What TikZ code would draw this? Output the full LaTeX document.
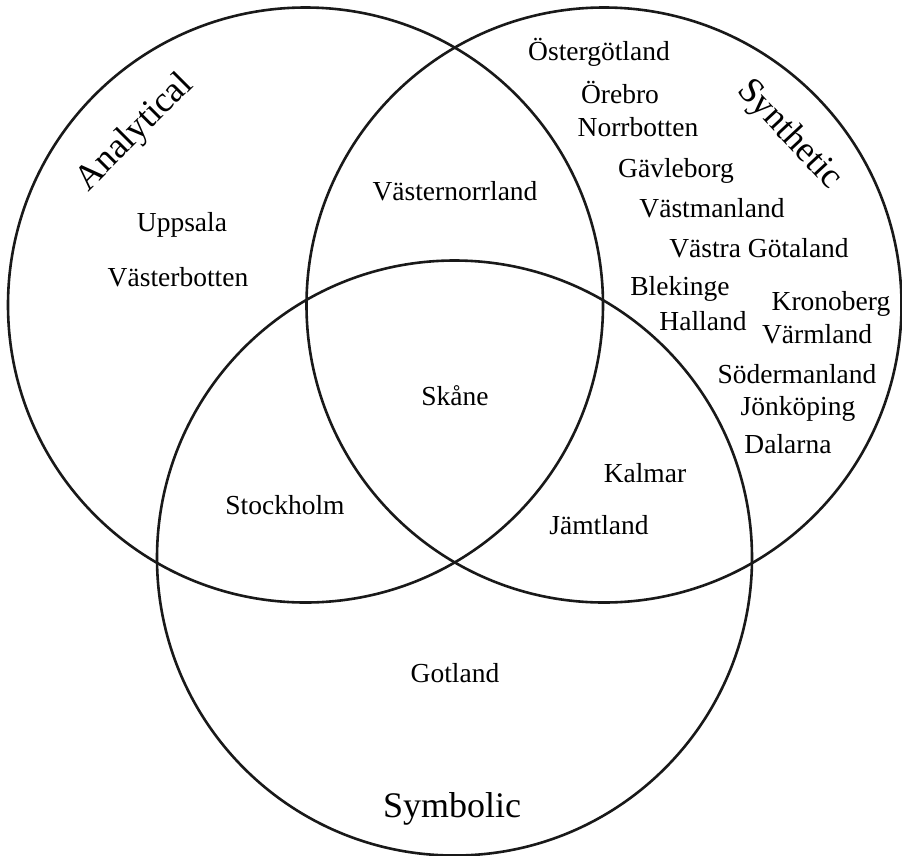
\documentclass[tikz,border=0pt]{standalone}
\usepackage{fontspec}
\setmainfont{Liberation Serif}
\begin{document}
\begin{tikzpicture}[x=1pt,y=-1pt,
  venn/.style={circle,draw=black!90,line width=2.6pt,minimum size=595pt,inner sep=0pt},
  region/.style={anchor=base,inner sep=0pt,font=\fontsize{27.5}{30}\selectfont},
  title/.style={inner sep=0pt,font=\fontsize{36}{40}\selectfont}]
\useasboundingbox[fill=white] (0,0) rectangle (902,855);
\node[venn] (A) at (305.5,305) {};
\node[venn] (B) at (604,305) {};
\node[venn] (C) at (454.5,558) {};
% titles
\node[title,rotate=45] (tA) at (135,133) {Analytical};
\node[title,rotate=-47] (tB) at (789,135) {Synthetic};
\node[title,anchor=base] (tC) at (452,817) {Symbolic};
% analytical only
\node[region] (r1) at (182,231) {Uppsala};
\node[region] (r2) at (178,286) {Västerbotten};
% A and B
\node[region] (r3) at (455,200) {Västernorrland};
% all three
\node[region] (r4) at (455,405) {Skåne};
% A and C
\node[region] (r5) at (285,514) {Stockholm};
% B and C
\node[region] (r6) at (645,482) {Kalmar};
\node[region] (r7) at (599,534) {Jämtland};
% C only
\node[region] (r8) at (455,682) {Gotland};
% synthetic only
\node[region] (s1) at (599,60) {Östergötland};
\node[region] (s2) at (620,103) {Örebro};
\node[region] (s3) at (638,136) {Norrbotten};
\node[region] (s4) at (676,177) {Gävleborg};
\node[region] (s5) at (712,217) {Västmanland};
\node[region] (s6) at (759,257) {Västra Götaland};
\node[region] (s7) at (680,295) {Blekinge};
\node[region] (s8) at (703,330) {Halland};
\node[region] (s9) at (831,310) {Kronoberg};
\node[region] (s10) at (817,343) {Värmland};
\node[region] (s11) at (797,383) {Södermanland};
\node[region] (s12) at (798,415) {Jönköping};
\node[region] (s13) at (788,453) {Dalarna};
\end{tikzpicture}
\end{document}
